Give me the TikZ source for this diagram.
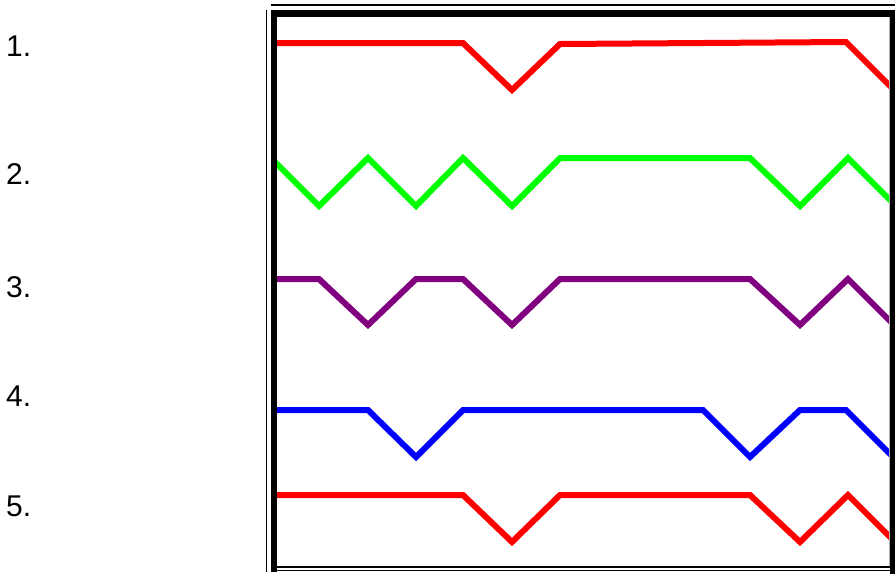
\documentclass[tikz,border=0pt]{standalone}
\usepackage{fontspec}
\setmainfont{Liberation Sans}
\definecolor{tracepurple}{RGB}{128,0,128}
\begin{document}
\begin{tikzpicture}[x=1pt,y=-1pt,
  wave/.style={line width=6pt,line join=miter},
  rowlabel/.style={anchor=west,inner sep=0pt,font=\fontsize{30}{32}\selectfont},
  thinrule/.style={line width=1.6pt,black}]
\useasboundingbox (0,0) rectangle (895,574);
\fill[white] (0,0) rectangle (895,574);

% row numbers
\node[rowlabel] (n1) at (6,46)  {1.};
\node[rowlabel] (n2) at (6,174) {2.};
\node[rowlabel] (n3) at (6,287) {3.};
\node[rowlabel] (n4) at (6,396) {4.};
\node[rowlabel] (n5) at (6,506) {5.};

% signal traces, cut at the inner edge of the frame
\begin{scope}
\clip (277,17) rectangle (890,567);
\draw[wave,red] (262,43) -- (463,43) -- (512,90) -- (560,44) -- (846,42) -- (896,92);
\draw[wave,green] (271,158) -- (319,206) -- (368,158) -- (416,206) -- (463,158) -- (512,206)
  -- (560,158) -- (750,158) -- (800,206) -- (848,158) -- (896,206);
\draw[wave,tracepurple] (262,279) -- (319,279) -- (368,325) -- (416,279) -- (463,279) -- (512,325)
  -- (560,279) -- (750,279) -- (800,325) -- (848,279) -- (896,327);
\draw[wave,blue] (262,410) -- (368,410) -- (416,457) -- (463,410) -- (703,410) -- (750,457)
  -- (800,410) -- (846,410) -- (896,460);
\draw[wave,red] (262,495) -- (463,495) -- (512,542) -- (560,495) -- (750,495) -- (800,542)
  -- (848,495) -- (896,543);
\end{scope}

% frame
\fill[black] (271,10) rectangle (895,17);
\fill[black] (271,10) rectangle (277,572);
\fill[black] (890,10) rectangle (895,574);
\draw[thinrule] (271,5) -- (895,5);
\draw[thinrule] (266.5,10) -- (266.5,572);
\draw[thinrule] (277,566.8) -- (890,566.8);
\draw[thinrule] (277,570.4) -- (890,570.4);
\draw[gray!60,line width=0.8pt] (889,17) -- (889,566);
\end{tikzpicture}
\end{document}
